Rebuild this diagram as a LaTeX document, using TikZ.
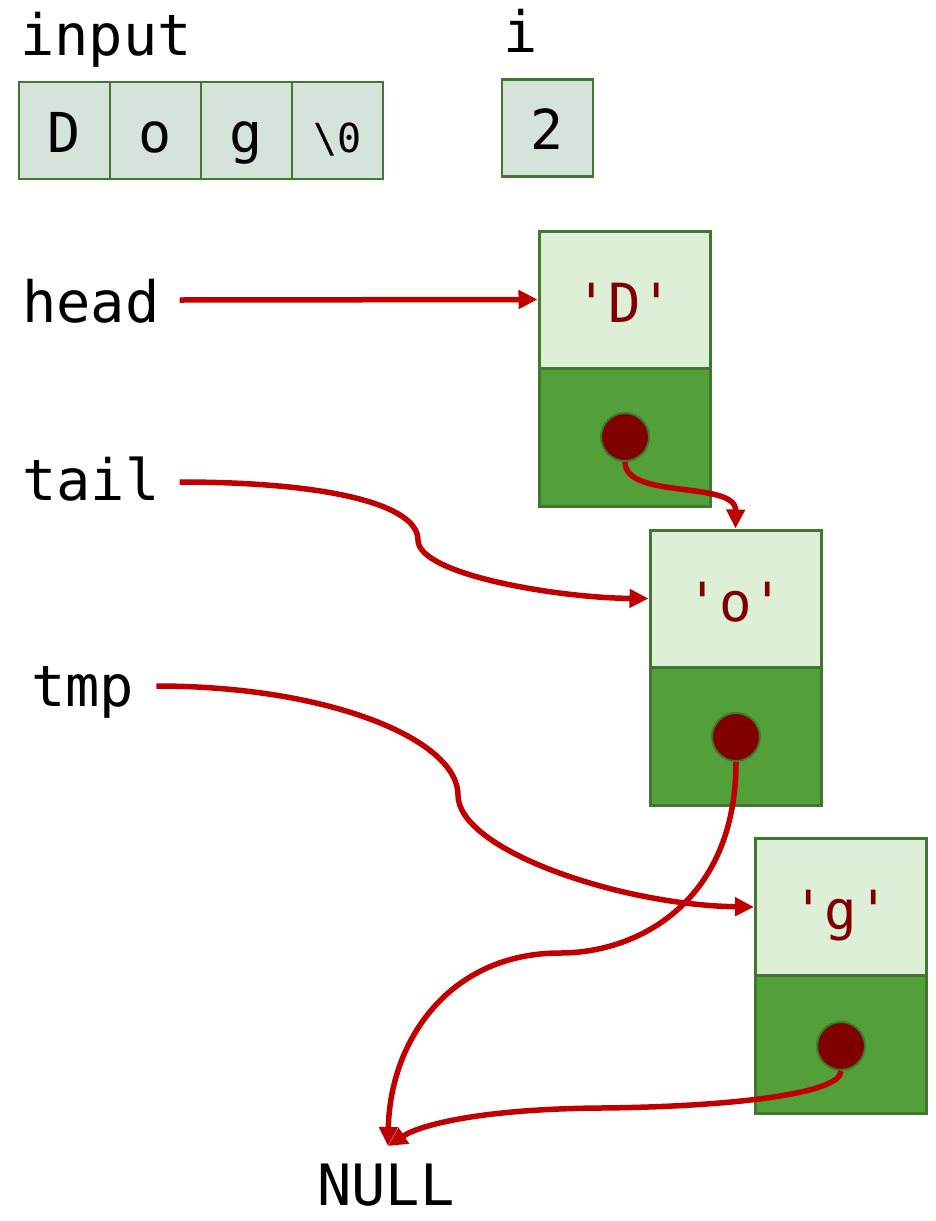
\documentclass[tikz,border=0pt]{standalone}
\usepackage{fontspec}
\setmonofont{DejaVu Sans Mono}
\usetikzlibrary{arrows.meta}
\definecolor{cellfill}{HTML}{D6E3DB}
\definecolor{cellline}{HTML}{41772F}
\definecolor{datafill}{HTML}{DDEFD6}
\definecolor{ptrfill}{HTML}{53A03B}
\definecolor{dotfill}{HTML}{800000}
\definecolor{dotline}{HTML}{3E7A2E}
\definecolor{arrowred}{HTML}{C00000}
\tikzset{
  lbl/.style={anchor=base west, inner sep=0pt, font=\ttfamily\fontsize{57}{62}\selectfont},
  cell/.style={draw=cellline, fill=cellfill, line width=2.5pt, minimum width=91pt, minimum height=97pt,
    inner sep=0pt, text height=50pt, text depth=7pt, font=\ttfamily\fontsize{55}{60}\selectfont},
  smallcell/.style={cell, font=\ttfamily\fontsize{40}{44}\selectfont},
  datapart/.style={draw=cellline, fill=datafill, line width=3pt, minimum width=171pt, minimum height=137pt,
    inner sep=0pt, text height=52pt, text depth=7pt, text=dotfill, font=\ttfamily\fontsize{54}{60}\selectfont},
  ptrpart/.style={draw=cellline, fill=ptrfill, line width=3pt, minimum width=171pt, minimum height=138pt, inner sep=0pt},
  dot/.style={circle, draw=dotline, fill=dotfill, line width=2pt, minimum size=48pt, inner sep=0pt},
  ptr/.style={draw=arrowred, line width=5.5pt, -{Triangle[length=19pt,width=18pt]}}
}
\begin{document}
\begin{tikzpicture}[x=1pt,y=-1pt]
\useasboundingbox (0,0) rectangle (936,1221);
% labels
\node[lbl] (inputlbl) at (20,55) {input};
\node[lbl] (ilbl) at (503,52) {i};
\node[lbl] (headlbl) at (22,322) {head};
\node[lbl] (taillbl) at (22,500) {tail};
\node[lbl] (tmplbl) at (31,706) {tmp};
\node[lbl, anchor=base] (nulllbl) at (386,1205) {NULL};
% input array
\node[cell] (c0) at (64.5,130.5) {D};
\node[cell] (c1) at (155.5,130.5) {o};
\node[cell] (c2) at (246.5,130.5) {g};
\node[smallcell] (c3) at (337.5,130.5) {\textbackslash 0};
% i
\node[cell] (ival) at (547.5,128) {2};
% list nodes
\node[datapart] (dD) at (624.5,299.5) {'D'};
\node[ptrpart] (pD) at (624.5,437) {};
\node[dot] (dotD) at (625,437) {};
\node[datapart] (dO) at (735.5,598.5) {'o'};
\node[ptrpart] (pO) at (735.5,736) {};
\node[dot] (dotO) at (736,737) {};
\node[datapart] (dG) at (841,907) {'g'};
\node[ptrpart] (pG) at (841,1044.5) {};
\node[dot] (dotG) at (841,1046) {};
\coordinate (nullpt) at (388,1146);
% connectors
\draw[ptr] ([xshift=20pt,yshift=22pt]headlbl.base east) -- (dD.west);
\draw[ptr] ([xshift=20pt,yshift=18pt]taillbl.base east) .. controls (330,482) and (418,505) .. (418,540)
   .. controls (418,575) and (560,598) .. (dO.west);
\draw[ptr] ([xshift=22pt,yshift=20pt]tmplbl.base east) .. controls (330,686) and (458,740) .. (458,795)
   .. controls (458,850) and (620,905) .. (dG.west);
\draw[ptr] (dotD.south) .. controls (625,500) and (736,480) .. (dO.north);
\draw[ptr] (dotO.south) .. controls (736,900) and (640,953) .. (560,953)
   .. controls (450,953) and (390,1040) .. (nullpt);
\draw[ptr] (dotG.south) .. controls (841,1095) and (720,1107) .. (600,1108)
   .. controls (480,1109) and (420,1125) .. (nullpt);
\end{tikzpicture}
\end{document}
